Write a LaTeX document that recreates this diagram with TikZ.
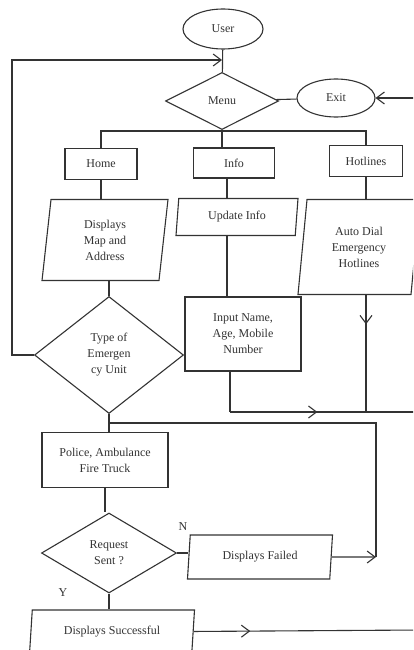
\documentclass[tikz,border=0pt]{standalone}
\usepackage{fontspec}
\setmainfont{Liberation Serif}
\usetikzlibrary{shapes.geometric,arrows.meta,decorations.markings}

\begin{document}
\begin{tikzpicture}[x=1pt, y=-1pt, line width=1.1pt, color=black!80,
    every node/.style={font=\fontsize{12}{16}\selectfont, align=center, inner sep=1pt},
    oval/.style={draw, ellipse},
    choice/.style={draw, diamond, inner sep=0pt},
    box/.style={draw, rectangle},
    io/.style={draw, trapezium, trapezium left angle=78, trapezium right angle=102,
        trapezium stretches body},
    tip/.style={-{Straight Barb[length=8pt,width=12pt]}},
    midarr/.style={postaction=decorate, decoration={markings,
        mark=at position #1 with {\arrow{Straight Barb[length=8pt,width=12pt]}}}}]

    % Khung hình
    \fill[white] (0,0) rectangle (413,650);
    \path[use as bounding box, clip] (0,0) rectangle (413,650);

    % Các khối
    \node[oval, minimum width=80pt, minimum height=40pt] (user) at (223,29) {User};
    \node[choice, minimum width=113pt, minimum height=57pt] (menu) at (222,101) {Menu};
    \node[oval, minimum width=78pt, minimum height=38pt] (exit) at (336,98) {Exit};

    \node[box, minimum width=72pt, minimum height=31pt] (home) at (101,164) {Home};
    \node[box, minimum width=81pt, minimum height=30pt] (info) at (234,163) {Info};
    \node[box, minimum width=73pt, minimum height=31pt] (hotl) at (366,161) {Hotlines};

    \node[io, minimum width=126pt, minimum height=81pt] (map) at (105,240) {Displays\\Map and\\Address};
    \node[io, minimum width=122pt, minimum height=37pt] (upd) at (237,217) {Update Info};
    \node[io, minimum width=122pt, minimum height=95pt] (auto) at (359,247) {Auto Dial\\Emergency\\Hotlines};

    \node[box, minimum width=116pt, minimum height=74pt] (input) at (243,334) {Input Name,\\Age, Mobile\\Number};
    \node[choice, minimum width=149pt, minimum height=117pt] (type) at (109,355) {Type of\\Emergen\\cy Unit};

    \node[box, minimum width=126pt, minimum height=55pt] (police) at (105,460) {Police, Ambulance\\Fire Truck};
    \node[choice, minimum width=135pt, minimum height=80pt] (req) at (109,553) {Request\\Sent ?};
    \node[io, minimum width=145pt, minimum height=44pt] (fail) at (260,557) {Displays Failed};
    \node[io, minimum width=165pt, minimum height=44pt] (succ) at (112,632) {Displays Successful};

    \node (nlab) at (183,527) {N};
    \node (ylab) at (63,593) {Y};

    % Điểm nối
    \coordinate (lft) at (12,60);
    \coordinate (loopin) at (222,60);
    \coordinate (rgt) at (420,98);
    \coordinate (bar) at (222,131);
    \coordinate (cx) at (227,0);
    \coordinate (jl) at (230,412);
    \coordinate (jr) at (366,412);
    \coordinate (re) at (420,412);
    \coordinate (fb) at (376,423);
    \coordinate (fj) at (376,557);
    \coordinate (se) at (420,630);

    % Đường nối
    \draw (user) -- (menu);
    \draw[tip] (type.west) -| (lft) -- (loopin);
    \draw (menu) -- (exit);
    \draw[tip] (rgt) -- (exit);

    \draw (menu.south) -- (menu.south |- info.north);
    \draw (home.north) |- (bar) -| (hotl.north);

    \draw (home.south) -- (home.south |- map.north);
    \draw (map.south -| type.north) -- (type.north);
    \draw (info.south -| cx) -- (upd.north -| cx);
    \draw (upd.south -| cx) -- (input.north -| cx);
    \draw (hotl.south) -- (hotl.south |- auto.north);

    \draw[midarr=0.25] (auto.south -| jr) -- (jr);
    \draw (input.south -| jl) -- (jl);
    \draw[midarr=0.46] (jl) -- (re);

    \draw (type.south) -- (type.south |- police.north);
    \draw (type.south |- fb) -- (fb) -- (fj);
    \draw[tip] (fail) -- (fj);

    \draw (police.south) -- (police.south |- req.north);
    \draw (req.east) -- (req.east -| fail.west);
    \draw (req.south) -- (req.south |- succ.north);
    \draw[midarr=0.25] (succ) -- (se);

\end{tikzpicture}
\end{document}
